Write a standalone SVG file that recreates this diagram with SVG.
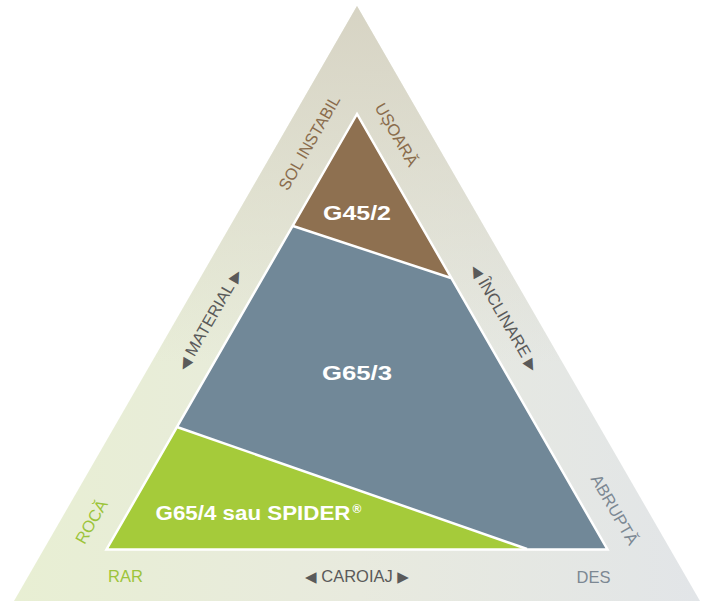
<svg xmlns="http://www.w3.org/2000/svg" width="709" height="603" viewBox="0 0 709 603">
<defs>
<linearGradient id="gH" x1="0" y1="0" x2="1" y2="0">
<stop offset="0" stop-color="#e8efd3"/>
<stop offset="0.5" stop-color="#e8eade"/>
<stop offset="1" stop-color="#e2e5e8"/>
</linearGradient>
<linearGradient id="gV" x1="0" y1="0" x2="0" y2="1">
<stop offset="0" stop-color="#d7d4c4" stop-opacity="1"/>
<stop offset="0.6" stop-color="#d7d4c4" stop-opacity="0"/>
</linearGradient>
<style>
.t{font-family:"Liberation Sans",Arial,sans-serif;font-size:16.5px;text-anchor:middle}
.ar{font-family:"DejaVu Sans",sans-serif;font-size:15px}
.br{fill:#8a6c4c}
.dk{fill:#5a5a5a}
.gr{fill:#9cc43a}
.bl{fill:#7c8893}
.lb{font-family:"Liberation Sans",Arial,sans-serif;font-weight:bold;fill:#ffffff;text-anchor:middle}
.sep{stroke:#ffffff;stroke-width:2.5;fill:none}
</style>
</defs>
<g id="background">
<polygon points="357,6 14,601 700,601" fill="url(#gH)"/>
<polygon points="357,6 14,601 700,601" fill="url(#gV)"/>
</g>
<g id="inner">
<g id="g45">
<polygon points="357,115 293,226 451,278" fill="#8e7050"/>
<text class="lb" x="357" y="220" font-size="20" textLength="68" lengthAdjust="spacingAndGlyphs">G45/2</text>
</g>
<g id="g653">
<polygon points="293,226 451,278 607.6,549 527,549 177,427" fill="#718898"/>
<text class="lb" x="357" y="380" font-size="20" textLength="70" lengthAdjust="spacingAndGlyphs">G65/3</text>
</g>
<g id="g654">
<polygon points="177,427 527,549 107,549" fill="#a5cb3a"/>
<text class="lb" x="253" y="520" font-size="20" textLength="195" lengthAdjust="spacingAndGlyphs">G65/4 sau SPIDER</text>
<text class="lb" x="357" y="513" font-size="12">®</text>
</g>
</g>
<g id="connectors">
<line class="sep" x1="293" y1="226" x2="451" y2="278"/>
<line class="sep" x1="177" y1="427" x2="527" y2="549"/>
<polygon class="sep" points="357,114 106.5,549.5 607.5,549.5"/>
</g>
<g id="labels">
<text class="t br" transform="translate(310,143) rotate(-60)" y="5" textLength="106" lengthAdjust="spacingAndGlyphs">SOL INSTABIL</text>
<text class="t br" transform="translate(396,135) rotate(60)" y="5">UȘOARĂ</text>
<text class="t dk" transform="translate(210,320) rotate(-60)" y="5"><tspan class="ar">◀</tspan> MATERIAL <tspan class="ar">▶</tspan></text>
<text class="t dk" transform="translate(504,318) rotate(60)" y="5"><tspan class="ar">◀</tspan> ÎNCLINARE <tspan class="ar">▶</tspan></text>
<text class="t gr" transform="translate(92,522) rotate(-60)" y="5">ROCĂ</text>
<text class="t bl" transform="translate(614,510) rotate(60)" y="5">ABRUPTĂ</text>
<text class="t gr" x="125.5" y="582">RAR</text>
<text class="t bl" x="593.5" y="583">DES</text>
<text class="t dk" x="357" y="582"><tspan class="ar">◀</tspan> CAROIAJ <tspan class="ar">▶</tspan></text>
</g>
</svg>
